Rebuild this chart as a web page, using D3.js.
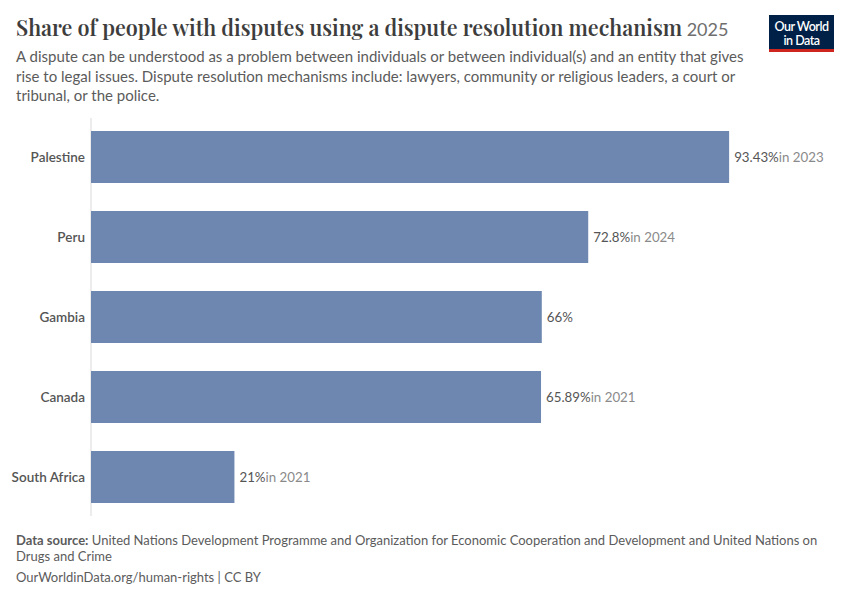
<!DOCTYPE html>
<html><head><meta charset="utf-8">
<script src="https://cdn.jsdelivr.net/npm/d3@7"></script>
<style>
body{margin:0;background:#fff;}
svg{font-family:Lato,"Noto Sans",sans-serif;}
</style></head>
<body><svg id="c" width="850" height="600"></svg>
<script>
const countries = ["Palestine","Peru","Gambia","Canada","South Africa"];
const values = [93.43, 72.8, 66, 65.89, 21];
const valueLabels = ["93.43%","72.8%","66%","65.89%","21%"];
const yearNotes = ["in 2023","in 2024","","in 2021","in 2021"];

const svg = d3.select("#c");
const data = countries.map((c,i)=>({c, v:values[i], lab:valueLabels[i], yr:yearNotes[i]}));

// Title
const t = svg.append("text").attr("x",16).attr("y",36)
  .style("font-size","21.5px").attr("fill","#3d3d3d");
t.append("tspan")
  .style("font-family","'Playfair Display','Liberation Serif','DejaVu Serif',serif")
  .style("font-weight","600")
  .text("Share of people with disputes using a dispute resolution mechanism");
t.append("tspan").attr("fill","#6e6e6e").style("font-size","18px")
  .style("font-family","Lato,sans-serif").text(" 2025");

const sub = ["A dispute can be understood as a problem between individuals or between individual(s) and an entity that gives",
 "rise to legal issues. Dispute resolution mechanisms include: lawyers, community or religious leaders, a court or",
 "tribunal, or the police."];
svg.selectAll("text.sub").data(sub).join("text").attr("class","sub")
  .attr("x",16).attr("y",(d,i)=>62+i*19.5).attr("fill","#5b5b5b")
  .style("font-size","15px").text(d=>d);

// Logo
const lg = svg.append("g");
lg.append("rect").attr("x",769).attr("y",15).attr("width",65).attr("height",36).attr("fill","#002147");
lg.append("rect").attr("x",769).attr("y",49).attr("width",65).attr("height",3).attr("fill","#ce261e");
lg.append("text").attr("x",801.5).attr("y",31).attr("text-anchor","middle").attr("fill","#fff")
  .style("font-size","12.5px").style("font-weight","600").style("letter-spacing","-0.5px").text("Our World");
lg.append("text").attr("x",801.5).attr("y",45).attr("text-anchor","middle").attr("fill","#fff")
  .style("font-size","12.5px").style("font-weight","600").style("letter-spacing","-0.5px").text("in Data");

// Scales
const x = d3.scaleLinear().domain([0,100]).range([91,774]);
const y = d3.scaleBand().domain(countries).range([118,516]).paddingInner(0.35).paddingOuter(0.1625);

svg.append("line").attr("x1",x(0)).attr("x2",x(0)).attr("y1",118).attr("y2",516)
  .attr("stroke","#d9d9d9").attr("stroke-width",1);

svg.selectAll("rect.bar").data(data).join("rect").attr("class","bar")
  .attr("x",x(0)).attr("y",d=>y(d.c)).attr("width",d=>x(d.v)-x(0)).attr("height",y.bandwidth())
  .attr("fill","#6d87b0");

svg.selectAll("text.cat").data(data).join("text").attr("class","cat")
  .attr("x",85).attr("y",d=>y(d.c)+y.bandwidth()/2).attr("dy","0.35em").attr("text-anchor","end")
  .attr("fill","#555").style("font-size","13.5px").style("font-weight","600").text(d=>d.c);

const vl = svg.selectAll("text.val").data(data).join("text").attr("class","val")
  .attr("x",d=>x(d.v)+5).attr("y",d=>y(d.c)+y.bandwidth()/2).attr("dy","0.35em")
  .style("font-size","13.3px");
vl.append("tspan").attr("fill","#555").text(d=>d.lab);
vl.append("tspan").attr("fill","#8a8a8a").text(d=>d.yr);

// Footer
const f1 = svg.append("text").attr("x",16).attr("y",545).style("font-size","13px").attr("fill","#5b5b5b");
f1.append("tspan").style("font-weight","700").text("Data source:");
f1.append("tspan").text(" United Nations Development Programme and Organization for Economic Cooperation and Development and United Nations on");
svg.append("text").attr("x",16).attr("y",561).style("font-size","13px").attr("fill","#5b5b5b").text("Drugs and Crime");
svg.append("text").attr("x",16).attr("y",582).style("font-size","13px").attr("fill","#5b5b5b").text("OurWorldinData.org/human-rights | CC BY");
</script></body></html>
